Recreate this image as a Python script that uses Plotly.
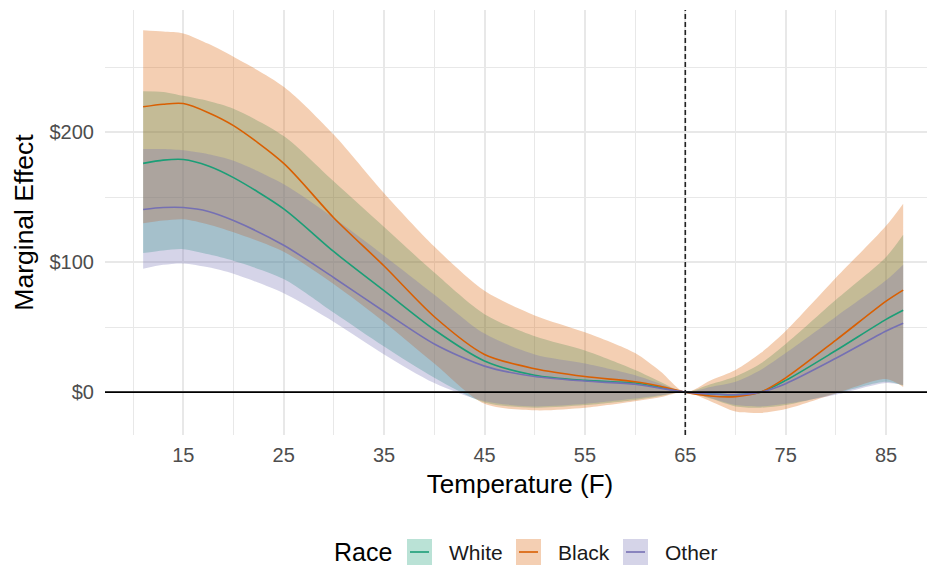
import plotly.graph_objects as go

# --- Data ---
temp = [11, 13, 15, 17.5, 20, 25, 30, 35, 40, 45, 50, 55, 60, 62.5, 65,
        67.5, 70, 72.5, 75, 80, 85, 86.7]

white_fit = [176, 178.5, 179, 174, 165, 141, 108, 78, 48, 24, 13, 9, 7, 3.5, 0,
             -1.5, -2, 0, 9, 32, 56, 63]
white_hi = [231.5, 231, 228, 224, 218, 197, 162, 127, 92, 60, 43, 32, 17, 8, 0,
            6, 12, 22, 37, 71, 104, 121]
white_lo = [107, 109, 110, 106, 101, 87, 61, 35, 11, -8, -12, -10, -6, -3, 0,
            -5, -11, -12, -10, -1, 8, 5]

black_fit = [219.5, 221.5, 222, 215, 205, 176, 134, 97, 58, 29, 18, 12, 8, 4.5, 0,
             -3, -3.5, 0, 11, 40, 70, 78.5]
black_hi = [278.5, 277.5, 276, 268, 258, 235, 198, 153, 112, 78, 59, 46, 30, 16, 0,
            9, 17, 30, 47, 88, 128, 145]
black_lo = [130, 132, 133, 129, 123, 108, 83, 54, 22, -9, -14, -12, -7, -4, 0,
            -7, -15, -16, -13, -1, 10, 4]

other_fit = [140.5, 142, 142, 139, 132, 113, 88, 62, 37, 20, 12, 8.5, 6, 3, 0,
             -1.5, -2, 0, 6.5, 26, 47, 53]
other_hi = [187, 187, 186, 183, 178, 160, 134, 105, 75, 45, 29, 22, 13, 6.5, 0,
            4, 8, 17, 30, 58, 86, 98]
other_lo = [95, 98, 99, 96, 91, 76, 54, 29, 7, -7, -11, -9, -5, -2.5, 0,
            -4.5, -10, -11, -9, -2, 7, 5.5]

groups = ["White", "Black", "Other"]
colors = {"White": "#1B9E77", "Black": "#D95F02", "Other": "#7570B3"}
fits = {"White": white_fit, "Black": black_fit, "Other": other_fit}
his = {"White": white_hi, "Black": black_hi, "Other": other_hi}
los = {"White": white_lo, "Black": black_lo, "Other": other_lo}

x_ticks = [15, 25, 35, 45, 55, 65, 75, 85]
y_ticks = [0, 100, 200]
y_labels = ["$0", "$100", "$200"]
cutoff = 65


def rgba(hex_color, a):
    h = hex_color.lstrip('#')
    r, g, b = int(h[0:2], 16), int(h[2:4], 16), int(h[4:6], 16)
    return f"rgba({r},{g},{b},{a})"


# --- Figure (page body has an 8px margin, so the figure is 8px smaller) ---
OFF = 8
W, H = 935 - OFF, 569 - OFF
M_L, M_R, M_T, M_B = 105 - OFF, 0, 10 - OFF, 134
plot_w = W - M_L - M_R
plot_h = H - M_T - M_B

fig = go.Figure()

# ribbons
for g in groups:
    fig.add_trace(go.Scatter(
        x=temp, y=los[g], mode='lines',
        line=dict(width=0, shape='spline', smoothing=0.8),
        showlegend=False, hoverinfo='skip'
    ))
    fig.add_trace(go.Scatter(
        x=temp, y=his[g], mode='lines',
        line=dict(width=0, shape='spline', smoothing=0.8),
        fill='tonexty', fillcolor=rgba(colors[g], 0.3),
        showlegend=False, hoverinfo='skip'
    ))

# fitted lines
for g in groups:
    fig.add_trace(go.Scatter(
        x=temp, y=fits[g], mode='lines', name=g,
        line=dict(color=colors[g], width=1.6, shape='spline', smoothing=0.8),
        showlegend=False
    ))

# reference lines
fig.add_shape(type='line', xref='paper', yref='y', x0=0, x1=1, y0=0, y1=0,
              line=dict(color='black', width=1.6), layer='above')
fig.add_shape(type='line', xref='x', yref='paper', x0=cutoff, x1=cutoff, y0=0, y1=1,
              line=dict(color='#222222', width=1.6, dash='5px,3px'), layer='above')


# --- Manual legend (ggplot style), positions given in screen pixels ---
def px_x(px):
    return (px - OFF - M_L) / plot_w


def px_y(py):
    return (H - M_B - (py - OFF)) / plot_h


legend_y = 552
fig.add_annotation(x=px_x(332), y=px_y(legend_y), xref='paper', yref='paper',
                   text="Race", showarrow=False, xanchor='left', yanchor='middle',
                   font=dict(size=25, color='black'))
box_left = {"White": 407, "Black": 516, "Other": 623}
for g in groups:
    bl = box_left[g]
    fig.add_shape(type='rect', xref='paper', yref='paper',
                  x0=px_x(bl), x1=px_x(bl + 25), y0=px_y(legend_y + 13), y1=px_y(legend_y - 13),
                  fillcolor=rgba(colors[g], 0.3), line=dict(width=0))
    fig.add_shape(type='line', xref='paper', yref='paper',
                  x0=px_x(bl + 3), x1=px_x(bl + 22), y0=px_y(legend_y), y1=px_y(legend_y),
                  line=dict(color=colors[g], width=1.6))
    fig.add_annotation(x=px_x(bl + 40), y=px_y(legend_y), xref='paper', yref='paper',
                       text=g, showarrow=False, xanchor='left', yanchor='middle',
                       font=dict(size=21, color='#1a1a1a'))

grid_c = '#E8E8E8'
fig.update_layout(
    width=W, height=H,
    margin=dict(l=M_L, r=M_R, t=M_T, b=M_B),
    plot_bgcolor='white', paper_bgcolor='white',
    font=dict(family='Liberation Sans, Arial, sans-serif'),
    showlegend=False,
    xaxis=dict(
        range=[7.2, 89.87], tickvals=x_ticks,
        showgrid=True, gridcolor=grid_c, gridwidth=1.8,
        minor=dict(tickvals=[10, 20, 30, 40, 50, 60, 70, 80, 90], showgrid=True,
                   gridcolor=grid_c, gridwidth=1.4),
        zeroline=False, showline=False, ticks='',
        tickfont=dict(size=20, color='#4D4D4D'), ticklabelstandoff=6,
        title=dict(text="Temperature (F)", font=dict(size=26, color='black'), standoff=9),
    ),
    yaxis=dict(
        range=[-33, 294], tickvals=y_ticks, ticktext=y_labels,
        showgrid=True, gridcolor=grid_c, gridwidth=1.8,
        minor=dict(tickvals=[50, 150, 250], showgrid=True,
                   gridcolor=grid_c, gridwidth=1.4),
        zeroline=False, showline=False, ticks='',
        tickfont=dict(size=20, color='#4D4D4D'), ticklabelstandoff=10,
        title=dict(text="Marginal Effect", font=dict(size=26.5, color='black'), standoff=8),
    ),
)

fig.write_html("out.html")
